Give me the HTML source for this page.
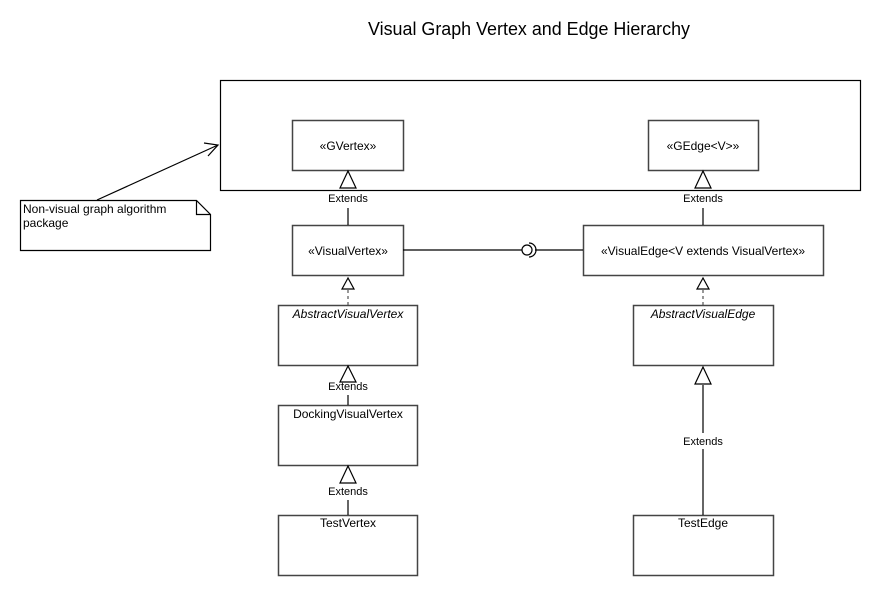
<!DOCTYPE html>
<html><head><style>body{margin:0;background:#fff}svg{display:block}text{font-family:"Liberation Sans",sans-serif;fill:#000}</style></head>
<body>
<svg width="881" height="596" viewBox="0 0 881 596" xmlns="http://www.w3.org/2000/svg">
<rect width="881" height="596" fill="#fff"/>
<text x="529" y="35" font-size="18" text-anchor="middle" textLength="322" lengthAdjust="spacingAndGlyphs">Visual Graph Vertex and Edge Hierarchy</text>
<g fill="#fff" stroke="#000" stroke-width="1.2">
<rect x="220.5" y="80.5" width="640" height="110"/>
<rect x="292.5" y="120.5" width="111" height="50" stroke="#444" stroke-width="1.5"/>
<rect x="648.5" y="120.5" width="110" height="50" stroke="#444" stroke-width="1.5"/>
<rect x="292.5" y="225.5" width="111" height="50" stroke="#444" stroke-width="1.5"/>
<rect x="583.5" y="225.5" width="240" height="50" stroke="#444" stroke-width="1.5"/>
<rect x="278.5" y="305.5" width="139" height="60" stroke="#444" stroke-width="1.5"/>
<rect x="278.5" y="405.5" width="139" height="60" stroke="#444" stroke-width="1.5"/>
<rect x="278.5" y="515.5" width="139" height="60" stroke="#444" stroke-width="1.5"/>
<rect x="633.5" y="305.5" width="140" height="60" stroke="#444" stroke-width="1.5"/>
<rect x="633.5" y="515.5" width="140" height="60" stroke="#444" stroke-width="1.5"/>
<path d="M20.5 200.5 H196.5 L210.5 214.5 V250.5 H20.5 Z"/>
<path d="M196.5 200.5 V214.5 H210.5" fill="none"/>
</g>
<g stroke="#000" stroke-width="1.2" fill="none">
<path d="M97 200 L218 145"/>
<path d="M204 143 L218 145 L208 156"/>
<path d="M348 208 V225 M703 208 V225 M348 395 V405 M348 500 V515 M703 385 V433 M703 449 V515"/>
<path d="M403 250 H522 M535 250 H583"/>
<circle cx="527" cy="250" r="5"/>
<path d="M529 243 A7 7 0 0 1 529 257"/>
<path d="M348 290 V305 M703 290 V305" stroke="#555" stroke-dasharray="3,3"/>
</g>
<g fill="#fff" stroke="#000" stroke-width="1.2">
<path d="M348 171 L340 188 H356 Z"/>
<path d="M703 171 L695 188 H711 Z"/>
<path d="M348 278 L342 289 H354 Z"/>
<path d="M703 278 L697 289 H709 Z"/>
<path d="M348 366 L340 382 H356 Z"/>
<path d="M348 466 L340 483 H356 Z"/>
<path d="M703 367 L695 384 H711 Z"/>
</g>
<g font-size="12" text-anchor="middle">
<text x="348" y="150">«GVertex»</text>
<text x="703" y="150">«GEdge&lt;V&gt;»</text>
<text x="348" y="255">«VisualVertex»</text>
<text x="703" y="255">«VisualEdge&lt;V extends VisualVertex»</text>
<text x="348" y="318" font-style="italic">AbstractVisualVertex</text>
<text x="348" y="418">DockingVisualVertex</text>
<text x="348" y="527">TestVertex</text>
<text x="703" y="318" font-style="italic">AbstractVisualEdge</text>
<text x="703" y="527">TestEdge</text>
</g>
<g font-size="11" text-anchor="middle">
<text x="348" y="202">Extends</text>
<text x="703" y="202">Extends</text>
<text x="348" y="390">Extends</text>
<text x="348" y="495">Extends</text>
<text x="703" y="445">Extends</text>
</g>
<text x="23" y="213" font-size="12">Non-visual graph algorithm</text>
<text x="23" y="227" font-size="12">package</text>
</svg>
</body></html>
